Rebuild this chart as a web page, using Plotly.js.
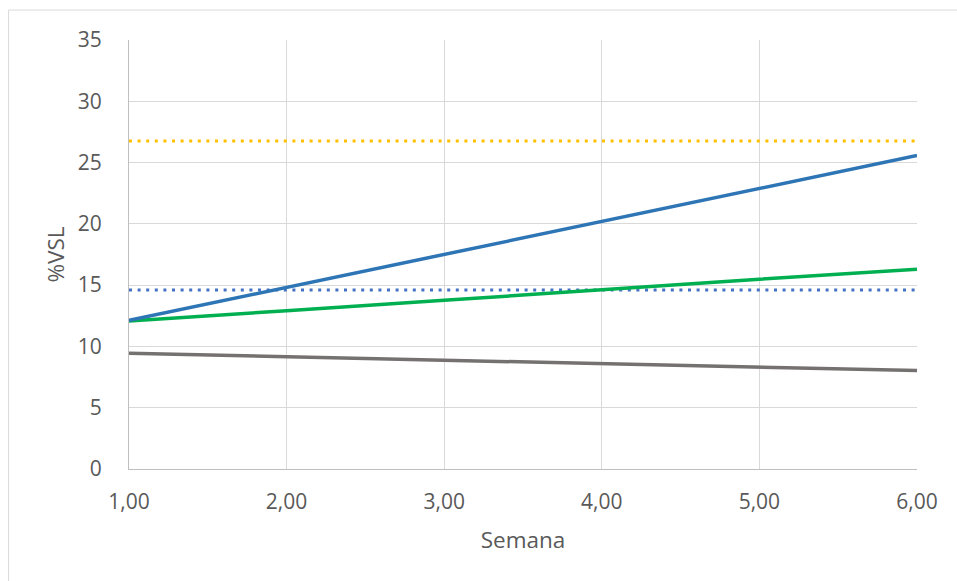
<!DOCTYPE html>
<html>
<head>
<meta charset="utf-8">
<script src="https://cdn.plot.ly/plotly-3.0.1.min.js"></script>
<style>
  html, body { margin: 0; padding: 0; background: #ffffff; }
  #chart { width: 957px; height: 581px; }
</style>
</head>
<body>
<div id="chart"></div>
<script>
// Weeks on the horizontal axis
const semanas = [1, 2, 3, 4, 5, 6];

// %VSL series
const serieAzul   = [12.13, 14.82, 17.5, 20.19, 22.88, 25.57];
const serieVerde  = [12.08, 12.92, 13.76, 14.62, 15.48, 16.3];
const serieGris   = [9.44, 9.16, 8.88, 8.6, 8.32, 8.03];
const limiteNaranja = [26.75, 26.75, 26.75, 26.75, 26.75, 26.75];
const limiteAzul    = [14.6, 14.6, 14.6, 14.6, 14.6, 14.6];

const font = '"Open Sans", Lato, sans-serif';
const txt = '#595959';
const fs = 21;
const fsTitle = 22.5;

const dotDash = '3px,5.6px';

const traces = [
  { x: semanas, y: limiteNaranja, mode: 'lines', line: { color: '#FFC000', width: 3, dash: dotDash } },
  { x: semanas, y: limiteAzul, mode: 'lines', line: { color: '#4472C4', width: 3, dash: dotDash } },
  { x: semanas, y: serieGris, mode: 'lines', line: { color: '#767171', width: 3.5 } },
  { x: semanas, y: serieVerde, mode: 'lines', line: { color: '#00B050', width: 3.5, shape: 'spline' } },
  { x: semanas, y: serieAzul, mode: 'lines', line: { color: '#2E75B6', width: 3.5 } }
];

const layout = {
  width: 957,
  height: 581,
  showlegend: false,
  paper_bgcolor: '#ffffff',
  plot_bgcolor: '#ffffff',
  separators: ',.',
  font: { family: font, size: fs, color: txt },
  margin: { l: 128.5, r: 39.7, t: 40, b: 111.5, pad: 0 },
  xaxis: {
    range: [1, 6],
    dtick: 1,
    tick0: 1,
    tickformat: '.2f',
    showgrid: true,
    gridcolor: '#d9d9d9',
    gridwidth: 1,
    showline: true,
    linecolor: '#bfbfbf',
    linewidth: 1,
    zeroline: false,
    ticks: '',
    ticklabelstandoff: 14,
    tickfont: { family: font, size: fs, color: txt },
    title: { text: 'Semana', font: { family: font, size: fsTitle, color: txt }, standoff: 18 },
    fixedrange: true
  },
  yaxis: {
    range: [0, 35],
    dtick: 5,
    showgrid: true,
    gridcolor: '#d9d9d9',
    gridwidth: 1,
    showline: true,
    linecolor: '#bfbfbf',
    linewidth: 1,
    zeroline: false,
    ticks: '',
    ticklabelstandoff: 22,
    tickfont: { family: font, size: fs, color: txt },
    title: { text: '%VSL', font: { family: font, size: fsTitle, color: txt }, standoff: 6 },
    fixedrange: true
  },
  shapes: [
    {
      type: 'rect', xref: 'paper', yref: 'paper',
      x0: -0.1528, x1: 1.06, y0: -0.28, y1: 1.0698,
      line: { color: '#d9d9d9', width: 1 },
      fillcolor: 'rgba(0,0,0,0)',
      layer: 'below'
    }
  ]
};

Plotly.newPlot('chart', traces, layout, { staticPlot: true, displayModeBar: false });
</script>
</body>
</html>
